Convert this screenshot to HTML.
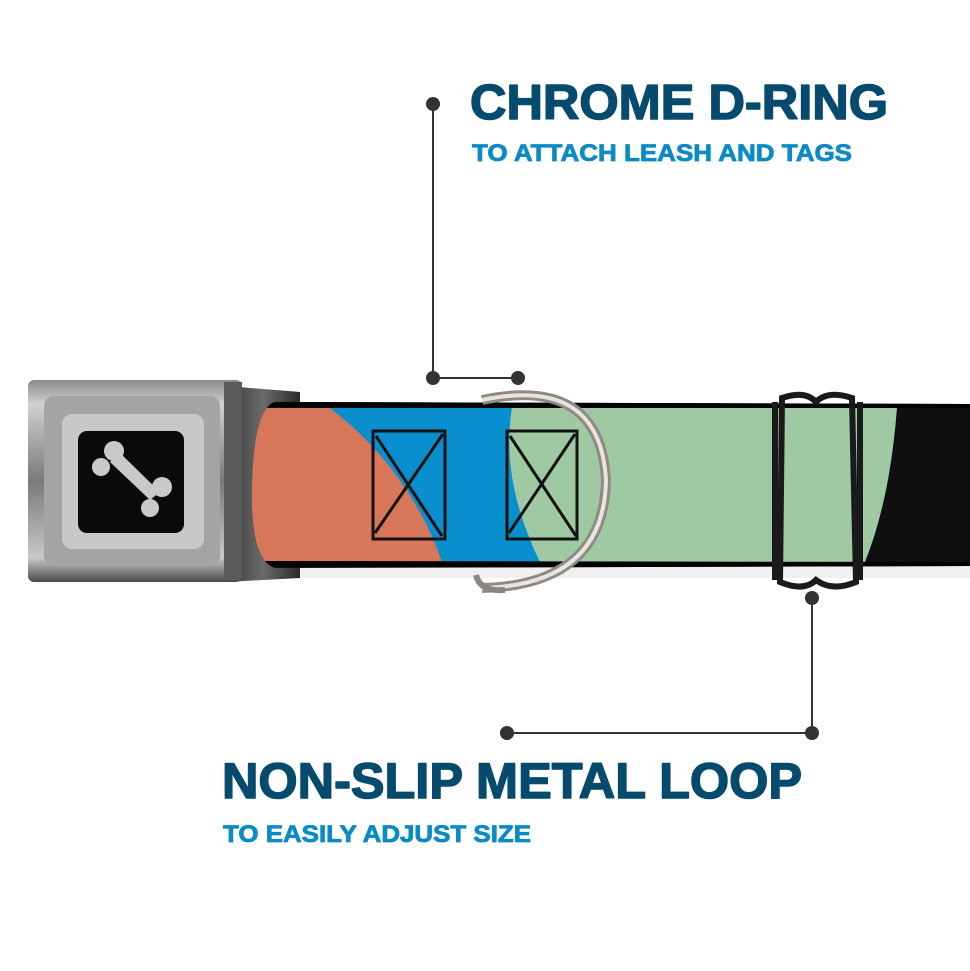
<!DOCTYPE html>
<html><head><meta charset="utf-8"><style>
html,body{margin:0;padding:0;background:#fff;}
svg{display:block;}
text{font-family:"Liberation Sans",sans-serif;font-weight:bold;}
</style></head><body>
<svg width="970" height="971" viewBox="0 0 970 971" xmlns="http://www.w3.org/2000/svg">
<defs>
<linearGradient id="bk" x1="0" y1="0" x2="0" y2="1">
<stop offset="0" stop-color="#8a8a8a"/><stop offset="0.12" stop-color="#d0d0d0"/><stop offset="0.5" stop-color="#7a7a7a"/><stop offset="0.88" stop-color="#c8c8c8"/><stop offset="1" stop-color="#4a4a4a"/>
</linearGradient>
<linearGradient id="bk2" x1="0" y1="0" x2="1" y2="0">
<stop offset="0" stop-color="#3a3a3a"/><stop offset="0.5" stop-color="#6a6a6a"/><stop offset="1" stop-color="#2a2a2a"/>
</linearGradient>
<clipPath id="strap"><path d="M275 402 L970 404 L970 566 L275 568 Q250 560 252 485 Q254 408 275 402 Z"/></clipPath>
</defs>
<rect width="970" height="971" fill="#fff"/>
<rect x="250" y="566" width="720" height="12" fill="#f0f0f0"/>
<path d="M226 386 L300 392 L300 578 L226 582 Z" fill="url(#bk2)"/>
<g clip-path="url(#strap)">
<rect x="240" y="400" width="740" height="170" fill="#0d0d0d"/>
<rect x="240" y="408" width="740" height="154" fill="#0a8fce"/>
<path d="M240 408 L330 408 Q410 470 442 562 L240 562 Z" fill="#d8765a"/>
<path d="M512 408 L897 408 Q890 500 865 562 L540 562 Q500 480 512 408 Z" fill="#9fc9a3"/>
<path d="M897 408 L970 408 L970 562 L865 562 Q890 500 897 408 Z" fill="#0f0f0f"/>
<path d="M250 404 L970 405" stroke="#000" stroke-width="6"/>
<path d="M250 564 L970 565" stroke="#000" stroke-width="6"/>
</g>
<g fill="none" stroke="#111" stroke-width="3">
<rect x="373" y="431" width="72" height="108"/>
<path d="M375 533 L443 434 M376 436 L442 536"/>
<rect x="507" y="431" width="70" height="108"/>
<path d="M509 533 L575 434 M510 436 L576 536"/>
</g>
<path d="M482 400 Q600 375 606 480 Q604 585 482 588" fill="none" stroke="#8f8a84" stroke-width="10"/>
<path d="M482 400 Q600 375 606 480 Q604 585 482 588" fill="none" stroke="#e8e4df" stroke-width="4"/>
<path d="M476 575 Q480 592 505 590" fill="none" stroke="#8a857f" stroke-width="6"/>
<g fill="none" stroke="#1a1a1a" stroke-width="6">
<path d="M782 398 Q805 390 816 402 Q828 390 852 398 L856 582 Q832 592 816 580 Q804 592 780 582 Z"/>
<path d="M775 402 L775 580 M860 402 L860 580"/>
</g>
<rect x="28" y="380" width="214" height="202" rx="6" fill="url(#bk)"/>
<rect x="224" y="382" width="18" height="198" fill="#5a5a5a"/>
<rect x="44" y="396" width="176" height="170" rx="10" fill="#a4a4a4"/>
<rect x="62" y="414" width="142" height="135" rx="10" fill="#c8c8c8"/>
<rect x="78" y="431" width="106" height="102" rx="9" fill="#0a0a0a"/>
<g fill="#c9c9c9">
<path d="M110 462 L150 500 L160 492 L120 453 Z"/>
<circle cx="114" cy="451" r="10"/><circle cx="101" cy="467" r="9"/>
<circle cx="162" cy="487" r="10"/><circle cx="150" cy="508" r="9"/>
</g>
<g stroke="#333" stroke-width="2" fill="none">
<path d="M433 104 L433 378 L518 378"/>
<path d="M812 598 L812 733 L507 733"/>
</g>
<g fill="#333">
<circle cx="433" cy="104" r="7"/><circle cx="433" cy="378" r="7"/><circle cx="518" cy="378" r="7"/>
<circle cx="812" cy="598" r="7"/><circle cx="812" cy="733" r="7"/><circle cx="507" cy="733" r="7"/>
</g>
<g stroke-linejoin="round">
<text x="470" y="119" font-size="49" fill="#064a6e" stroke="#064a6e" stroke-width="1.5" textLength="418" lengthAdjust="spacingAndGlyphs">CHROME D-RING</text>
<text x="472" y="161" font-size="24" fill="#0a8ac6" stroke="#0a8ac6" stroke-width="0.8" textLength="380" lengthAdjust="spacingAndGlyphs">TO ATTACH LEASH AND TAGS</text>
<text x="222" y="798" font-size="50" fill="#064a6e" stroke="#064a6e" stroke-width="1.5" textLength="580" lengthAdjust="spacingAndGlyphs">NON-SLIP METAL LOOP</text>
<text x="223" y="842" font-size="24" fill="#0a8ac6" stroke="#0a8ac6" stroke-width="0.8" textLength="308" lengthAdjust="spacingAndGlyphs">TO EASILY ADJUST SIZE</text>
</g>
</svg>
</body></html>
